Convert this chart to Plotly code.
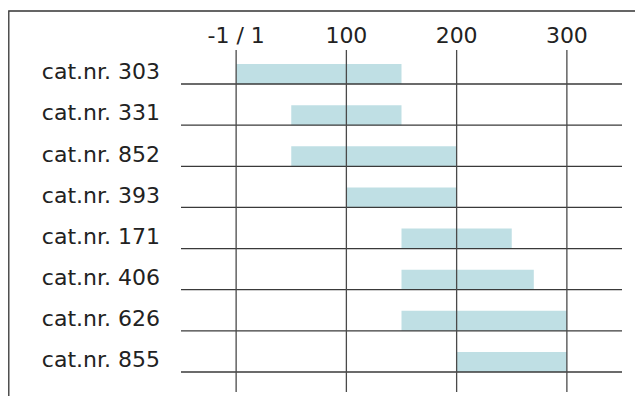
import plotly.graph_objects as go

categories = ["cat.nr. 303", "cat.nr. 331", "cat.nr. 852", "cat.nr. 393",
              "cat.nr. 171", "cat.nr. 406", "cat.nr. 626", "cat.nr. 855"]
starts = [0, 50, 50, 100, 150, 150, 150, 200]
ends = [150, 150, 200, 200, 250, 270, 300, 300]
tick_values = [0, 100, 200, 300]
tick_labels = ["-1 / 1", "100", "200", "300"]

W, H = 643, 396
OFF = 8  # page body margin
ML, MR, MT, MB = 181 - OFF, 21 + OFF, 50 - OFF, 4 + OFF
FONT = "DejaVu Sans"
BAR = "#bfdfe4"
LINE = "#3a3a3a"

idx = list(range(len(categories)))
bar_h = 0.486

fig = go.Figure()
fig.add_trace(go.Bar(
    orientation="h",
    y=[i - bar_h / 2 for i in idx],
    x=[e - s for s, e in zip(starts, ends)],
    base=starts,
    width=bar_h,
    marker=dict(color=BAR, line=dict(width=0)),
    hoverinfo="skip",
))

shapes = []
for i in idx:
    shapes.append(dict(type="line", xref="x domain", yref="y", x0=0, x1=1, y0=i, y1=i,
                       line=dict(color=LINE, width=1.3), layer="above"))
for v in tick_values:
    shapes.append(dict(type="line", xref="x", yref="y domain", x0=v, x1=v, y0=0, y1=1,
                       line=dict(color="#4a4a4a", width=1.3), layer="above"))
pw = W - ML - MR
ph = H - MT - MB
fx0, fy0 = 0.8, 11 - OFF
shapes.append(dict(type="rect", xref="paper", yref="paper",
                   x0=(fx0 - ML) / pw, x1=(W + 20 - ML) / pw,
                   y0=(H - MB - (H + 20)) / ph, y1=(H - MB - fy0) / ph,
                   line=dict(color="#333333", width=1.3), fillcolor="rgba(0,0,0,0)", layer="below"))

fig.update_layout(
    width=W, height=H,
    margin=dict(l=ML, r=MR, t=MT, b=MB),
    paper_bgcolor="white", plot_bgcolor="white",
    showlegend=False,
    shapes=shapes,
    font=dict(family=FONT, size=22, color="#222222"),
    xaxis=dict(range=[-50, 350], side="top", tickvals=tick_values, ticktext=tick_labels,
               showgrid=False, zeroline=False, showline=False, ticks="",
               ticklabelstandoff=2, fixedrange=True),
    yaxis=dict(range=[7.486, -0.826], tickvals=[i - 0.3 for i in idx], ticktext=categories,
               showgrid=False, zeroline=False, showline=False, ticks="",
               ticklabelstandoff=20, fixedrange=True),
)

fig.write_html("out.html")
